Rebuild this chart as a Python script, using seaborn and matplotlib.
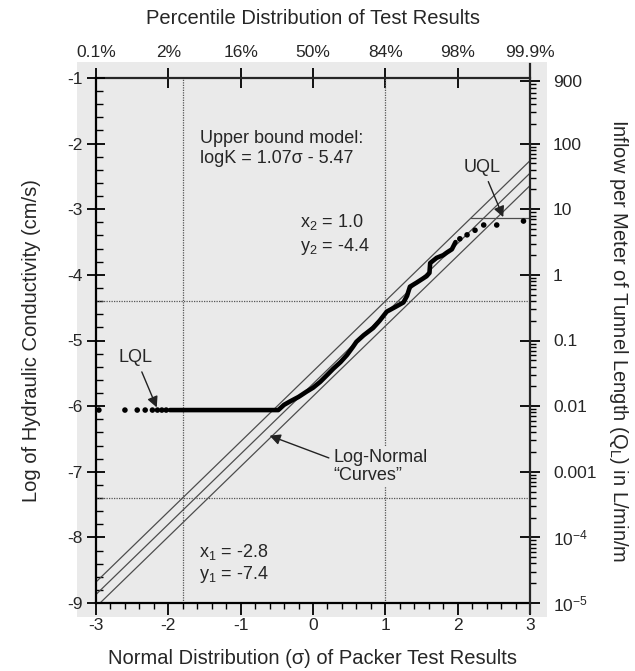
import numpy as np
import pandas as pd
import matplotlib
matplotlib.use("Agg")
import matplotlib.pyplot as plt
import seaborn as sns
from matplotlib.patches import Rectangle
from matplotlib.ticker import MultipleLocator, NullFormatter

# ---------------- data ----------------
sigma_ticks = [-3, -2, -1, 0, 1, 2, 3]
percentile_labels = ["0.1%", "2%", "16%", "50%", "84%", "98%", "99.9%"]
logk_ticks = [-1, -2, -3, -4, -5, -6, -7, -8, -9]
q_ticks = [900, 100, 10, 1, 0.1, 0.01, 0.001, 1e-4, 1e-5]
q_labels = ["900", "100", "10", "1", "0.1", "0.01", "0.001", "10$^{-4}$", "10$^{-5}$"]

# isolated packer test results (sigma, logK)
dot_sigma = [-2.96, -2.60, -2.43, -2.32, -2.22, -2.15, -2.09, -2.03,
             2.03, 2.13, 2.24, 2.36, 2.54, 2.91]
dot_logk = [-6.06, -6.06, -6.06, -6.06, -6.06, -6.06, -6.06, -6.06,
            -3.45, -3.39, -3.32, -3.24, -3.24, -3.18]

# densely packed test results (drawn as a continuous heavy trace)
trace_sigma = [-1.98, -0.48, -0.40, -0.32, -0.20, -0.09, 0.00, 0.10, 0.20, 0.28,
               0.38, 0.47, 0.55, 0.60, 0.70, 0.83, 0.92, 1.02, 1.12, 1.25,
               1.30, 1.34, 1.43, 1.50, 1.57, 1.61, 1.62, 1.71, 1.80, 1.85,
               1.92, 1.97]
trace_logk = [-6.06, -6.06, -5.98, -5.93, -5.86, -5.78, -5.72, -5.63, -5.52, -5.43,
              -5.33, -5.22, -5.10, -5.02, -4.92, -4.81, -4.70, -4.56, -4.50, -4.42,
              -4.32, -4.18, -4.12, -4.07, -4.02, -3.97, -3.82, -3.74, -3.70, -3.66,
              -3.61, -3.50]

# three parallel log-normal "curves" (end points at sigma = -3 and 3)
curve_names = ["upper", "middle", "lower"]
curve_sigma_ends = [-3.0, 3.0]
curve_logk_left = [-8.68, -8.87, -9.06]
curve_logk_right = [-2.26, -2.45, -2.64]

# upper quantitation limit segment
uql_sigma = [2.19, 3.0]
uql_logk = [-3.13, -3.13]

# reference (dotted) lines
ref_sigma = [-1.8, 1.0]
ref_logk = [-4.4, -7.4]

# ---------------- style ----------------
sns.set_theme(style="ticks")
plt.rcParams["font.family"] = ["Liberation Sans", "DejaVu Sans"]
plt.rcParams["mathtext.fontset"] = "custom"
plt.rcParams["mathtext.rm"] = "Liberation Sans"
plt.rcParams["mathtext.it"] = "Liberation Sans:italic"
plt.rcParams["mathtext.default"] = "regular"
plt.rcParams["axes.unicode_minus"] = False

TXT = "#262626"
BG = "#eaeaea"
TICK_FS = 12.5
LAB_FS = 14.5
ANN_FS = 13

fig = plt.figure(figsize=(6.35, 6.71), dpi=100)
fig.patch.set_facecolor("white")
bg = Rectangle((77 / 635, 1 - 617 / 671), 470 / 635, 555 / 671,
               transform=fig.transFigure, facecolor=BG, edgecolor="none", zorder=-10)
fig.patches.append(bg)

ax = fig.add_axes([96 / 635, 1 - 603 / 671, 434 / 635, 525 / 671])
ax.set_zorder(2)
ax.set_facecolor("none")
ax.set_xlim(-3, 3)
ax.set_ylim(-9, -1)

# dotted reference lines
for s in ref_sigma:
    ax.axvline(s, color="#555555", lw=0.9, ls=(0, (1, 1)), zorder=1)
for k in ref_logk:
    ax.axhline(k, color="#555555", lw=0.9, ls=(0, (1, 1)), zorder=1)

# log-normal curves
curves = pd.DataFrame({
    "curve": [n for n in curve_names for _ in curve_sigma_ends],
    "sigma": curve_sigma_ends * len(curve_names),
    "logk": [v for pair in zip(curve_logk_left, curve_logk_right) for v in pair],
})
sns.lineplot(data=curves, x="sigma", y="logk", units="curve", estimator=None,
             color="#4d4d4d", lw=0.9, ax=ax, zorder=2, legend=False)

# UQL segment
sns.lineplot(x=uql_sigma, y=uql_logk, color="#4d4d4d", lw=0.9, ax=ax, zorder=2)

# heavy trace of dense results
sns.lineplot(x=trace_sigma, y=trace_logk, sort=False, estimator=None,
             color="black", lw=3.3, ax=ax, zorder=4,
             solid_capstyle="round", solid_joinstyle="round")
# isolated results
sns.scatterplot(x=dot_sigma, y=dot_logk, color="black", s=16, edgecolor="none",
                ax=ax, zorder=5)

# ---------------- axes: left / bottom ----------------
for sp in ["top", "right"]:
    ax.spines[sp].set_visible(False)
for sp in ["left", "bottom"]:
    ax.spines[sp].set_linewidth(1.6)
    ax.spines[sp].set_color("black")

ax.set_xticks(sigma_ticks)
ax.set_yticks(logk_ticks)
ax.xaxis.set_minor_locator(MultipleLocator(0.2))
ax.yaxis.set_minor_locator(MultipleLocator(0.2))
ax.tick_params(axis="x", which="major", direction="out", length=8.5, width=1.3,
               pad=2, labelsize=TICK_FS, labelcolor=TXT, color="black")
ax.tick_params(axis="x", which="minor", direction="out", length=4.5, width=1.0,
               color="black")
ax.tick_params(axis="y", which="major", direction="inout", length=13, width=1.3,
               pad=3, labelsize=TICK_FS, labelcolor=TXT, color="black")
ax.tick_params(axis="y", which="minor", direction="in", length=5, width=1.0,
               color="black")

ax.set_xlabel("Normal Distribution (σ) of Packer Test Results", fontsize=LAB_FS,
              color=TXT)
ax.xaxis.set_label_coords(0.5, -0.088)
ax.set_ylabel("Log of Hydraulic Conductivity (cm/s)", fontsize=LAB_FS, color=TXT)
ax.yaxis.set_label_coords(-0.127, 0.5)

# ---------------- top percentile axis ----------------
sec = ax.secondary_xaxis("top")
sec.set_xticks(sigma_ticks, labels=percentile_labels)
sec.spines["top"].set_linewidth(1.6)
sec.tick_params(axis="x", which="major", direction="inout", length=14, width=1.3,
                pad=6, labelsize=TICK_FS, labelcolor=TXT, color="black")
sec.tick_params(axis="x", which="minor", length=0)
sec.set_xlabel("Percentile Distribution of Test Results", fontsize=LAB_FS,
               color=TXT, labelpad=15)

# ---------------- right inflow axis ----------------
ax2 = ax.twinx()
ax2.set_zorder(3)
ax2.set_facecolor("none")
ax2.set_yscale("log")
ax2.set_ylim(1e-5, 1e3)
ax2.set_yticks(q_ticks, labels=q_labels)
ax2.yaxis.set_minor_formatter(NullFormatter())
for sp in ["top", "left", "bottom"]:
    ax2.spines[sp].set_visible(False)
ax2.spines["right"].set_linewidth(1.6)
ax2.spines["right"].set_bounds(10 ** (-5.15), 10 ** (3.22))
ax2.tick_params(axis="y", which="major", direction="inout", length=15, width=1.3,
                pad=9, labelsize=TICK_FS, labelcolor=TXT, color="black")
ax2.tick_params(axis="y", which="minor", direction="out", length=4.5, width=1.0,
                color="black")
ax2.set_ylabel("Inflow per Meter of Tunnel Length (Q$_L$) in L/min/m",
               fontsize=LAB_FS, color=TXT, rotation=-90, va="bottom")
ax2.yaxis.set_label_coords(1.177, 0.5)

# ---------------- annotations ----------------
ax.text(-1.56, -1.92, "Upper bound model:", fontsize=ANN_FS, color=TXT,
        ha="left", va="center", zorder=6)
ax.text(-1.56, -2.23, "logK = 1.07σ - 5.47", fontsize=ANN_FS, color=TXT,
        ha="left", va="center", zorder=6)
ax.text(-0.18, -3.20, "x$_2$ = 1.0", fontsize=ANN_FS, color=TXT,
        ha="left", va="center", zorder=6)
ax.text(-0.18, -3.57, "y$_2$ = -4.4", fontsize=ANN_FS, color=TXT,
        ha="left", va="center", zorder=6)
ax.text(-1.57, -8.23, "x$_1$ = -2.8", fontsize=ANN_FS, color=TXT,
        ha="left", va="center", zorder=6)
ax.text(-1.57, -8.56, "y$_1$ = -7.4", fontsize=ANN_FS, color=TXT,
        ha="left", va="center", zorder=6)

arrow = dict(arrowstyle="-|>", color="#222222", lw=1.0, mutation_scale=16,
             shrinkA=2, shrinkB=0)
ax.annotate("LQL", xy=(-2.16, -6.02), xytext=(-2.45, -5.26), fontsize=ANN_FS,
            color=TXT, ha="center", va="center", arrowprops=arrow, zorder=6)
ax.annotate("UQL", xy=(2.63, -3.12), xytext=(2.34, -2.36), fontsize=ANN_FS,
            color=TXT, ha="center", va="center", arrowprops=arrow, zorder=6)
ax.annotate("Log-Normal\n\u201cCurves\u201d", xy=(-0.60, -6.45),
            xytext=(0.28, -6.92), fontsize=ANN_FS, color=TXT, ha="left",
            va="center", linespacing=1.05,
            bbox=dict(boxstyle="square,pad=0.1", facecolor=BG, edgecolor="none"),
            arrowprops=dict(arrow, relpos=(0.0, 0.7)), zorder=6)

fig.savefig("out.png", dpi=100)
